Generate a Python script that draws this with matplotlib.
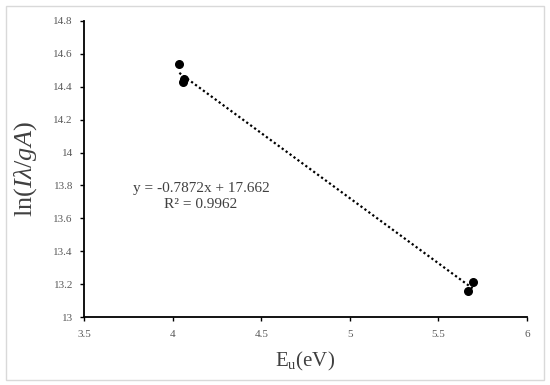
import numpy as np
import matplotlib
matplotlib.use("Agg")
import matplotlib.pyplot as plt
from matplotlib.patches import Rectangle

# Data
energy_ev = [4.038, 4.057, 4.064, 5.693, 5.665]
ln_values = [14.537, 14.430, 14.447, 13.212, 13.161]
x_ticks = [3.5, 4, 4.5, 5, 5.5, 6]
x_tick_labels = ["3.5", "4", "4.5", "5", "5.5", "6"]
y_ticks = [13, 13.2, 13.4, 13.6, 13.8, 14, 14.2, 14.4, 14.6, 14.8]
y_tick_labels = ["13", "13.2", "13.4", "13.6", "13.8", "14", "14.2", "14.4", "14.6", "14.8"]
equation_text = "y = -0.7872x + 17.662"
r2_text = "R² = 0.9962"

plt.rcParams['font.family'] = ['Liberation Serif', 'DejaVu Serif']
plt.rcParams['mathtext.fontset'] = 'custom'
plt.rcParams['mathtext.rm'] = 'Liberation Serif'
plt.rcParams['mathtext.it'] = 'Liberation Serif:italic'

fig = plt.figure(figsize=(5.5, 3.85), dpi=100)
fig.patches.append(Rectangle((6 / 550, 1 - 380 / 385), 538 / 550, 374 / 385,
                             transform=fig.transFigure, fill=False,
                             edgecolor="#d9d9d9", linewidth=1.0))
ax = fig.add_axes([84 / 550, 1 - 317.3 / 385, 443 / 550, 296.6 / 385])

ax.scatter(energy_ev, ln_values, s=30, color="black", zorder=3)

coef = np.polyfit(energy_ev, ln_values, 1)
xs = np.array([min(energy_ev), max(energy_ev)])
ax.plot(xs, np.polyval(coef, xs), color="black", linestyle=(0, (1, 1.2)), linewidth=1.6)

ax.set_xlim(3.5, 6)
ax.set_ylim(13, 14.8)
ax.set_xticks(x_ticks)
ax.set_xticklabels(x_tick_labels)
ax.set_yticks(y_ticks)
ax.set_yticklabels(y_tick_labels)
ax.tick_params(axis="both", direction="out", length=3, width=1, color="black",
               labelsize=8, labelcolor="#595959")
ax.tick_params(axis="x", pad=6)
ax.tick_params(axis="y", pad=5)
for side in ["top", "right"]:
    ax.spines[side].set_visible(False)
for side in ["left", "bottom"]:
    ax.spines[side].set_linewidth(1.3)

ax.set_xlabel(r"$\mathrm{E_u(eV)}$", fontsize=15, color="#404040", labelpad=8)
ax.set_ylabel(r"$\mathrm{ln}(I\lambda/gA)$", fontsize=19, color="#404040", labelpad=10)

ax.text(4.16, 13.78, equation_text, fontsize=11, color="#404040", ha="center", va="center")
ax.text(4.16, 13.685, r2_text, fontsize=11, color="#404040", ha="center", va="center")

fig.savefig("out.png", dpi=100)
